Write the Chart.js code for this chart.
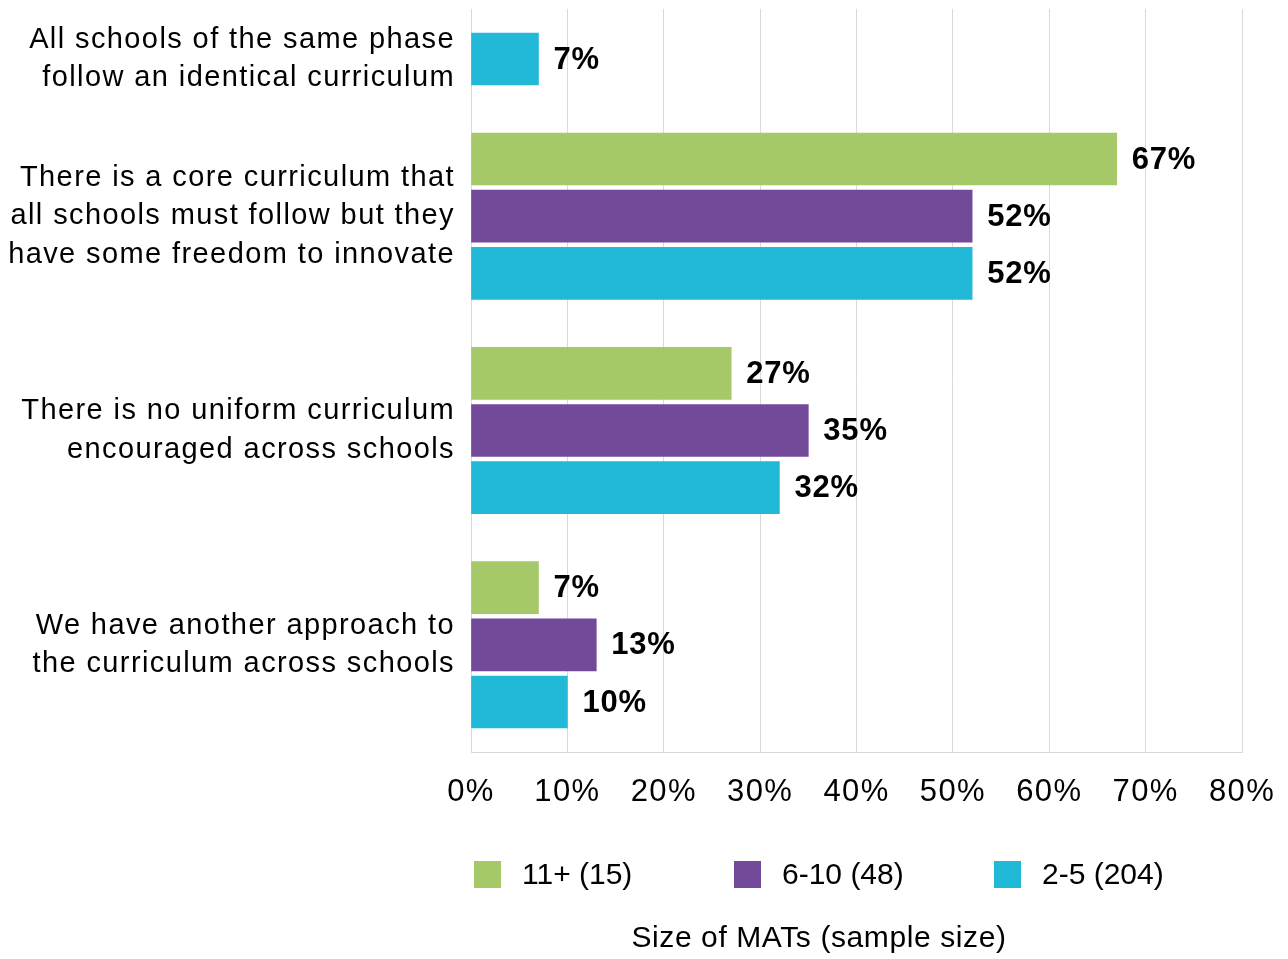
<!DOCTYPE html>
<html>
<head>
<meta charset="utf-8">
<title>Curriculum approach by size of MAT</title>
<script src="https://cdn.jsdelivr.net/npm/chart.js@4/dist/chart.umd.min.js"></script>
<style>
  html, body { margin: 0; padding: 0; background: #fff; }
  #wrap { position: relative; width: 1288px; height: 959px; overflow: hidden; }
  #chart { position: absolute; left: 0; top: 0; }
  #legend {
    position: absolute; left: 474px; top: 856px; height: 36px;
    display: flex; align-items: center;
    font-family: "Liberation Sans", Arial, sans-serif; font-size: 30px; color: #000;
  }
  .item { width: 260px; display: flex; align-items: center; white-space: nowrap; }
  .swatch { width: 27px; height: 27px; margin-right: 21px; flex: none; }
  #axisTitle {
    position: absolute; left: 569px; width: 500px; top: 920px; text-align: center;
    font-family: "Liberation Sans", Arial, sans-serif; font-size: 30px; color: #000;
    letter-spacing: 0.6px; white-space: nowrap;
  }
</style>
</head>
<body>
<div id="wrap">
  <canvas id="chart" width="1288" height="959"></canvas>
  <div id="legend"></div>
  <div id="axisTitle">Size of MATs (sample size)</div>
</div>
<script>
// Survey answers (one entry per row group, split into display lines)
const categories = [
  ['All schools of the same phase', 'follow an identical curriculum'],
  ['There is a core curriculum that', 'all schools must follow but they', 'have some freedom to innovate'],
  ['There is no uniform curriculum', 'encouraged across schools'],
  ['We have another approach to', 'the curriculum across schools']
];

// Share of MATs per answer, by MAT size (percent); null = not reported
const seriesNames = ['11+ (15)', '6-10 (48)', '2-5 (204)'];
const mats11plus = [null, 67, 27, 7];
const mats6to10  = [null, 52, 35, 13];
const mats2to5   = [7, 52, 32, 10];

// Percentage axis ticks
const xTickValues = [0, 10, 20, 30, 40, 50, 60, 70, 80];

const seriesValues = [mats11plus, mats6to10, mats2to5];
const seriesColors = ['#a5c968', '#734a99', '#22b9d9'];

// Rows are stacked top-down: one slot per reported bar, with a gap between answer groups
const GROUP_GAP = 0.75;
const rowPos = seriesValues.map(() => []);
const groupCenters = [];
let cursor = GROUP_GAP / 2;
categories.forEach((_, ci) => {
  const start = cursor;
  seriesValues.forEach((vals, si) => {
    if (vals[ci] !== null) {
      rowPos[si][ci] = cursor + 0.5;
      cursor += 1;
    }
  });
  groupCenters.push((start + cursor) / 2);
  cursor += GROUP_GAP;
});
const rowSpan = cursor - GROUP_GAP / 2;

const datasets = seriesNames.map((name, si) => ({
  label: name,
  backgroundColor: seriesColors[si],
  borderWidth: 0,
  grouped: false,
  barThickness: 52,
  data: seriesValues[si]
    .map((v, ci) => (v === null ? null : { x: v, y: rowPos[si][ci] }))
    .filter(p => p !== null)
}));

const FONT = '"Liberation Sans", Arial, sans-serif';

// Slightly open tracking for all canvas text
const tracking = {
  id: 'tracking',
  beforeDraw(chart) { chart.ctx.letterSpacing = '1.4px'; }
};

// Percentage labels to the right of each bar
const valueLabels = {
  id: 'valueLabels',
  afterDatasetsDraw(chart) {
    const ctx = chart.ctx;
    ctx.save();
    ctx.letterSpacing = '0.8px';
    ctx.font = 'bold 31px ' + FONT;
    ctx.fillStyle = '#000';
    ctx.textAlign = 'left';
    ctx.textBaseline = 'middle';
    chart.data.datasets.forEach((ds, di) => {
      const meta = chart.getDatasetMeta(di);
      meta.data.forEach((bar, i) => {
        ctx.fillText(ds.data[i].x + '%', bar.x + 15, bar.y + 1);
      });
    });
    ctx.restore();
  }
};

const chart = new Chart(document.getElementById('chart'), {
  type: 'bar',
  data: { datasets },
  options: {
    indexAxis: 'y',
    responsive: false,
    animation: false,
    layout: { padding: { top: 9, right: 46, bottom: 137, left: 0 } },
    plugins: {
      legend: { display: false },
      tooltip: { enabled: false }
    },
    scales: {
      x: {
        type: 'linear',
        min: 0,
        max: 80,
        afterBuildTicks(scale) { scale.ticks = xTickValues.map(v => ({ value: v })); },
        afterFit(scale) {
          scale.height = 70;
          scale.paddingLeft = 0;
          scale.paddingRight = 0;
        },
        ticks: {
          callback: v => v + '%',
          font: { family: FONT, size: 31 },
          color: '#000',
          padding: 22,
          maxRotation: 0,
          autoSkip: false
        },
        grid: { color: '#d9d9d9', lineWidth: 1, drawTicks: false },
        border: { display: true, color: '#d9d9d9', width: 1 }
      },
      y: {
        type: 'linear',
        reverse: true,
        offset: false,
        min: 0,
        max: rowSpan,
        afterBuildTicks(scale) { scale.ticks = groupCenters.map(v => ({ value: v })); },
        afterFit(scale) {
          scale.width = 471;
          scale.paddingTop = 0;
          scale.paddingBottom = 0;
        },
        ticks: {
          callback: (v, i) => categories[i],
          font: { family: FONT, size: 29, lineHeight: 1.33 },
          color: '#000',
          padding: 16,
          autoSkip: false
        },
        grid: { display: false, drawTicks: false, offset: false },
        border: { display: false }
      }
    }
  },
  plugins: [tracking, valueLabels]
});

// Legend built from the chart's own datasets
const legendEl = document.getElementById('legend');
chart.data.datasets.forEach(ds => {
  const item = document.createElement('div');
  item.className = 'item';
  const sw = document.createElement('span');
  sw.className = 'swatch';
  sw.style.background = ds.backgroundColor;
  const txt = document.createElement('span');
  txt.textContent = ds.label;
  item.appendChild(sw);
  item.appendChild(txt);
  legendEl.appendChild(item);
});
</script>
</body>
</html>
